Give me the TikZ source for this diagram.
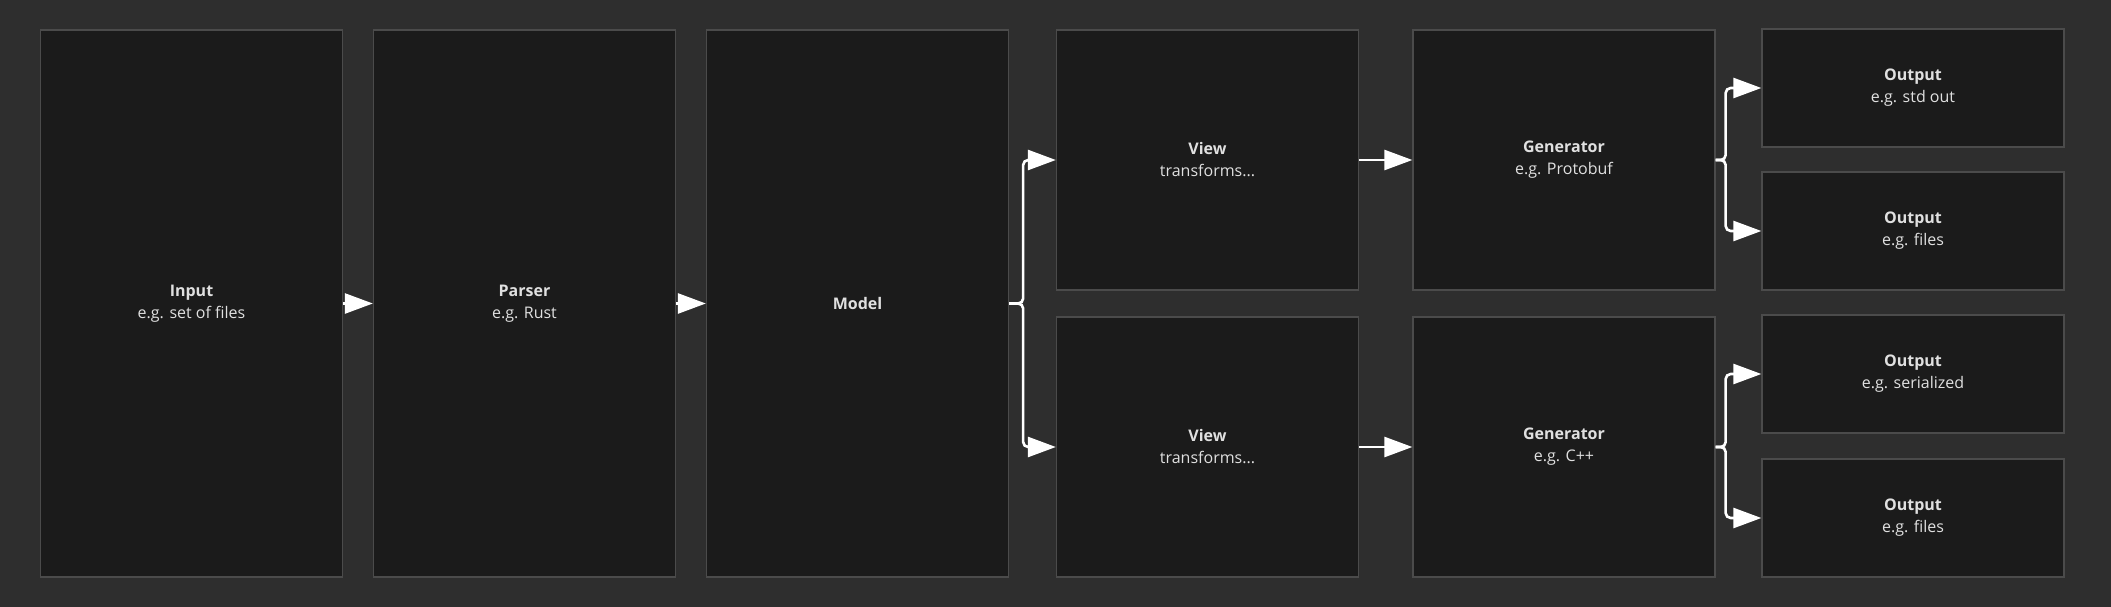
\documentclass[tikz,border=0pt]{standalone}
\usepackage{fontspec}
\setmainfont{Open Sans}
\usepackage{tikz}
\usetikzlibrary{positioning,arrows.meta}
\definecolor{canvas}{HTML}{2E2E2E}
\definecolor{boxfill}{HTML}{1B1B1B}
\definecolor{boxline}{HTML}{4B4B4B}
\definecolor{labeltext}{HTML}{E0E0E0}

\begin{document}
\begin{tikzpicture}[x=1pt, y=-1pt,
  stage/.style={draw=boxline, fill=boxfill, line width=1.3pt, text=labeltext,
    align=center, inner sep=0pt, font=\fontsize{16}{22}\selectfont},
  tall/.style={stage, minimum width=302pt, minimum height=547pt},
  half/.style={stage, minimum width=302pt, minimum height=260pt},
  quarter/.style={stage, minimum width=302pt, minimum height=118pt},
  flow/.style={white, line width=2.6pt, rounded corners=5pt,
    -{Triangle[length=28pt, width=20pt]}}]
  \fill[canvas] (0,0) rectangle (2111,607);
  % pipeline
  \node[tall] (input) at (191.5,303.5) {\textbf{Input}\\e.g. set of files};
  \node[tall] (parser) at (524.5,303.5) {\textbf{Parser}\\e.g. Rust};
  \node[tall] (model) at (857.5,303.5) {\textbf{Model}};
  \foreach \row/\yy/\lang in {1/160/Protobuf, 2/447/C++}
  {
    \node[half] (view\row) at (1207.5,\yy) {\textbf{View}\\transforms...};
    \node[half] (gen\row) at (1564,\yy) {\textbf{Generator}\\e.g. \lang};
  }
  \foreach \k/\yy/\what in {1/88/std out, 2/231/files, 3/374/serialized, 4/518/files}
    \node[quarter] (out\k) at (1913,\yy) {\textbf{Output}\\e.g. \what};
  % connectors
  \draw[flow] (input) -- (parser);
  \draw[flow] (parser) -- (model);
  \draw[flow] (model.east) -- ++(14,0) |- (view1.west);
  \draw[flow] (model.east) -- ++(14,0) |- (view2.west);
  \draw[flow] (view1) -- (gen1);
  \draw[flow] (view2) -- (gen2);
  \draw[flow] (gen1.east) -- ++(10,0) |- (out1.west);
  \draw[flow] (gen1.east) -- ++(10,0) |- (out2.west);
  \draw[flow] (gen2.east) -- ++(10,0) |- (out3.west);
  \draw[flow] (gen2.east) -- ++(10,0) |- (out4.west);
\end{tikzpicture}
\end{document}
